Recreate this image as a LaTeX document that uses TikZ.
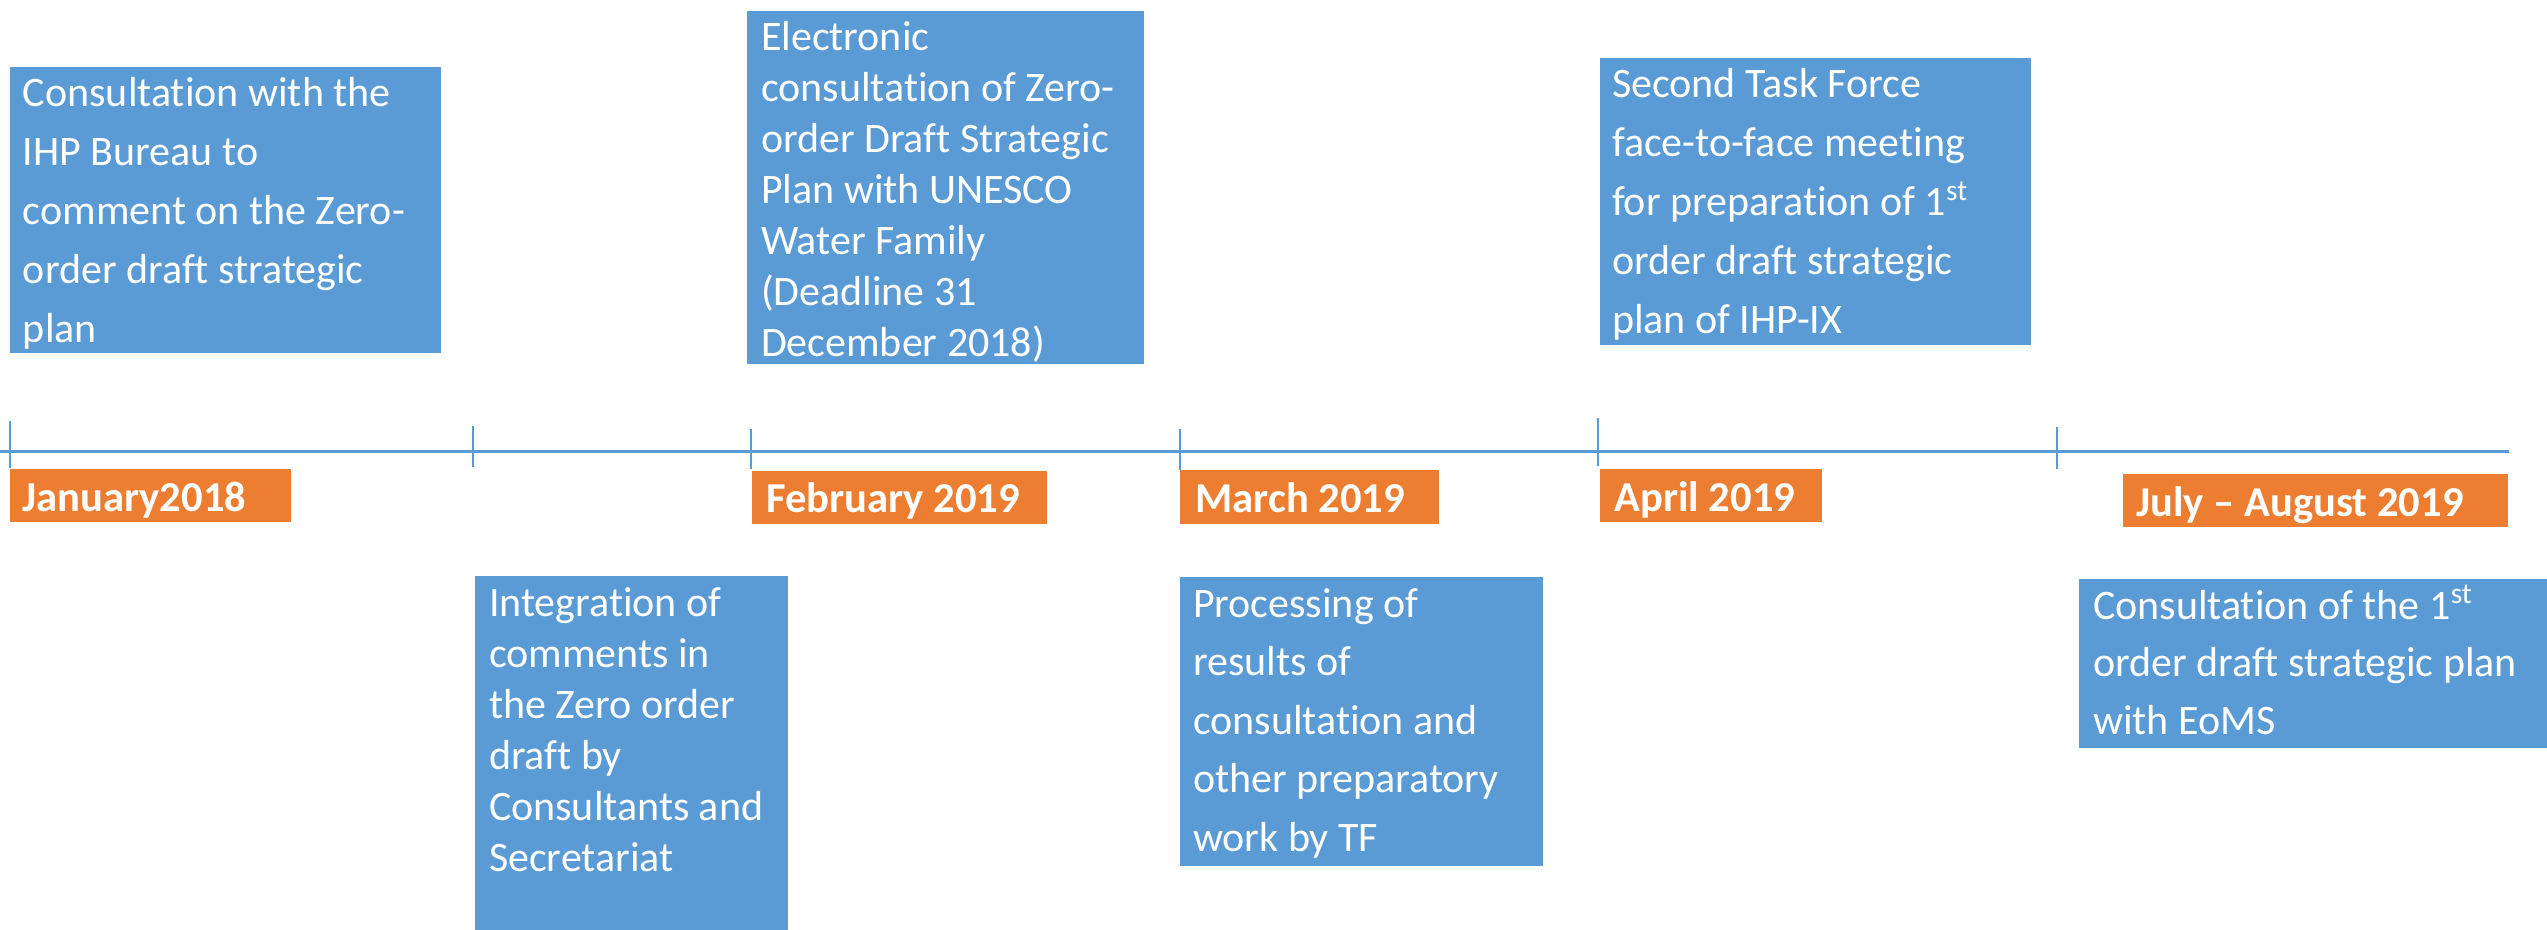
\documentclass[tikz,border=0pt]{standalone}
\usepackage{fontspec}
\setmainfont{Carlito}[Ligatures={NoCommon}]
\usetikzlibrary{fit}
\definecolor{boxblue}{HTML}{5B9BD5}
\definecolor{lblorange}{HTML}{ED7D31}
\tikzset{
  bluebox/.style={fill=boxblue, draw=none, inner sep=0pt},
  lblbox/.style={fill=lblorange, draw=none, inner sep=0pt},
  boxtext/.style={text=white, inner sep=0pt, anchor=north west, align=left},
  lbltext/.style={text=white, inner sep=0pt, anchor=base west, font=\bfseries\fontsize{21.3}{25}\selectfont},
  tick/.style={draw=boxblue, line width=0.6pt},
  axis/.style={draw=boxblue, line width=1.5pt}
}
\newcommand{\firstline}{\rule{0pt}{20pt}}
\begin{document}
\begin{tikzpicture}[x=0.5pt,y=-0.5pt]
\useasboundingbox (0,0) rectangle (2547,930);
% timeline
\coordinate (ax0) at (0,451);
\coordinate (ax1) at (2509,451);
\draw[axis] (ax0) -- (ax1);
\foreach \n/\x/\ya/\yb in {k1/10/421/468, k2/473/426/467, k3/751/429/469, k4/1180/429/470, k5/1598/418/466, k6/2057/427/469}{
  \coordinate (\n a) at (\x,\ya);
  \coordinate (\n b) at (\x,\yb);
  \draw[tick] (\n a) -- (\n b);
}
% blue boxes
\node[bluebox, fit={(10,67) (441,353)}] (b1) {};
\node[bluebox, fit={(747,11) (1144,364)}] (b2) {};
\node[bluebox, fit={(475,576) (788,930)}] (b3) {};
\node[bluebox, fit={(1600,58) (2031,345)}] (b4) {};
\node[bluebox, fit={(1180,577) (1543,866)}] (b5) {};
\node[bluebox, fit={(2079,579) (2547,748)}] (b6) {};
% texts
\node[boxtext, font=\fontsize{21}{29.5}\selectfont] (t1) at ([xshift=6.5pt]b1.north west)
  {\firstline Consultation with the\\IHP Bureau to\\comment on the Zero-\\order draft strategic\\plan};
\node[boxtext, font=\fontsize{21}{25.5}\selectfont] (t2) at ([xshift=7pt]b2.north west)
  {\firstline Electronic\\consultation of Zero-\\order Draft Strategic\\Plan with UNESCO\\Water Family\\(Deadline 31\\December 2018)};
\node[boxtext, font=\fontsize{21}{25.5}\selectfont] (t3) at ([xshift=7pt]b3.north west)
  {\firstline Integration of\\comments in\\the Zero order\\draft by\\Consultants and\\Secretariat};
\node[boxtext, font=\fontsize{21}{29.5}\selectfont] (t4) at ([xshift=6pt]b4.north west)
  {\firstline Second Task Force\\face-to-face meeting\\for preparation of 1\textsuperscript{st}\\order draft strategic\\plan of IHP-IX};
\node[boxtext, font=\fontsize{21}{29.25}\selectfont] (t5) at ([xshift=6.5pt]b5.north west)
  {\firstline Processing of\\results of\\consultation and\\other preparatory\\work by TF};
\node[boxtext, font=\fontsize{21}{28.75}\selectfont] (t6) at ([xshift=7pt]b6.north west)
  {\firstline Consultation of the 1\textsuperscript{st}\\order draft strategic plan\\with EoMS};
% orange labels
\node[lblbox, fit={(10,469) (291,522)}] (l1) {};
\node[lblbox, fit={(752,471) (1047,524)}] (l2) {};
\node[lblbox, fit={(1180,470) (1439,524)}] (l3) {};
\node[lblbox, fit={(1600,469) (1822,522)}] (l4) {};
\node[lblbox, fit={(2123,474) (2508,527)}] (l5) {};
\node[lbltext] (m1) at (22,511) {January2018};
\node[lbltext] (m2) at (766,512) {February 2019};
\node[lbltext] (m3) at (1195,512) {March 2019};
\node[lbltext] (m4) at (1614,511) {April 2019};
\node[lbltext] (m5) at (2136,516) {July – August 2019};
\end{tikzpicture}
\end{document}
